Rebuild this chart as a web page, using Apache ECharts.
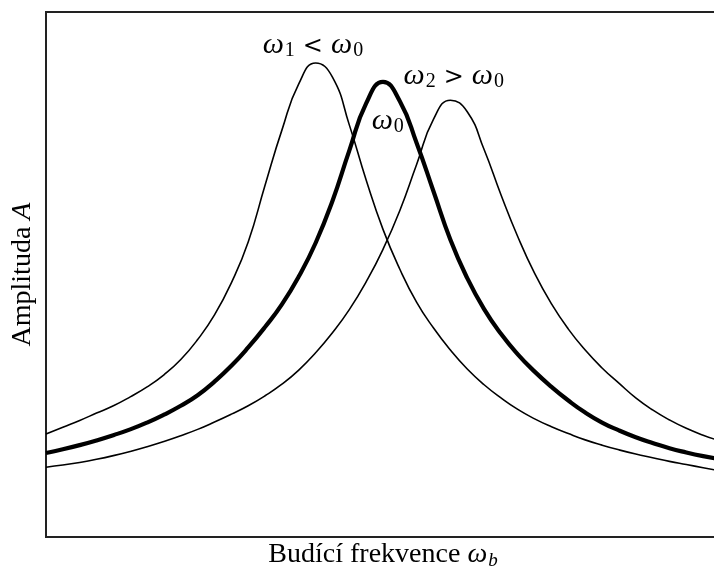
<!DOCTYPE html>
<html>
<head>
<meta charset="utf-8">
<script src="https://cdn.jsdelivr.net/npm/echarts@6/dist/echarts.min.js"></script>
<style>html,body{margin:0;padding:0;background:#fff}#c{width:714px;height:569px}</style>
</head>
<body>
<div id="c"></div>
<script>
// Budící frekvence (arbitrary units 0..100), shared sample positions every 2.5
var freq = [0,2.5,5,7.5,10,12.5,15,17.5,20,22.5,25,27.5,30,32.5,35,37.5,40,42.5,45,47.5,50,52.5,55,57.5,60,62.5,65,67.5,70,72.5,75,77.5,80,82.5,85,87.5,90,92.5,95,97.5,100];
// Amplituda A (arbitrary units 0..100)
var ampW1 = [19.6,20.9,22.2,23.6,25.0,26.7,28.6,30.9,33.8,37.6,42.3,48.4,56.2,67.0,77.5,86.3,90.3,87.6,78.5,68.0,58.6,51.0,44.7,39.8,35.6,32.0,29.0,26.5,24.3,22.5,21.0,19.7,18.5,17.5,16.6,15.8,15.1,14.4,13.8,13.2,12.6];
var ampW0 = [16.0,16.7,17.5,18.4,19.4,20.5,21.8,23.3,25.0,27.0,29.6,32.6,36.1,40.0,44.3,49.6,56.0,64.0,73.6,82.6,86.7,83.0,75.0,65.8,56.6,49.3,43.4,38.7,34.8,31.5,28.6,26.0,23.7,21.8,20.3,19.0,17.9,16.9,16.1,15.4,14.8];
var ampW2 = [13.3,13.7,14.2,14.8,15.5,16.3,17.2,18.2,19.3,20.5,21.9,23.4,25.0,26.9,29.1,31.8,35.1,38.9,43.3,48.6,54.8,62.2,71.0,79.6,83.2,81.0,73.8,65.2,57.2,50.2,44.4,39.6,35.6,32.2,29.3,26.5,24.2,22.3,20.7,19.4,18.3];
var labelW1 = [39.6, 93.7];
var labelW2 = [60.5, 87.8];
var labelW0 = [50.7, 79.2];
var xAxisName = '{t|Budící frekvence }{i|ω}{s|b}';
var yAxisName = '{t|Amplituda }{i|A}';

function pairs(xs, ys) { return xs.map(function (x, k) { return [x, ys[k]]; }); }

var serif = '"Liberation Serif", "DejaVu Serif", serif';
var rich = {
  t: {fontFamily: serif, fontSize: 28, color: '#000'},
  i: {fontFamily: serif, fontSize: 28, fontStyle: 'italic', color: '#000'},
  s: {fontFamily: serif, fontSize: 19, fontStyle: 'italic', color: '#000', padding: [11, 0, 0, 1]}
};
var labRich = {
  i: {fontFamily: serif, fontSize: 30, fontStyle: 'italic', color: '#000'},
  s: {fontFamily: serif, fontSize: 20, color: '#000', padding: [11, 0, 0, 1]},
  o: {fontFamily: '"DejaVu Serif", serif', fontSize: 24, color: '#000', padding: [4, 8, 0, 8]}
};

function mp(coord, text) {
  return {
    symbol: 'circle', symbolSize: 0, silent: true,
    data: [{coord: coord, value: 0}],
    label: {show: true, position: 'inside', formatter: text, rich: labRich}
  };
}

var chart = echarts.init(document.getElementById('c'), null, {renderer: 'canvas'});
chart.setOption({
  animation: false,
  backgroundColor: '#fff',
  grid: {left: 46, top: 12, right: -6, bottom: 32, containLabel: false, outerBoundsMode: 'none',
         show: true, borderColor: '#222', borderWidth: 2, backgroundColor: 'transparent'},
  xAxis: {
    type: 'value', min: 0, max: 100,
    axisLine: {show: false}, axisTick: {show: false}, axisLabel: {show: false}, splitLine: {show: false},
    name: xAxisName, nameLocation: 'middle', nameGap: 3,
    nameTextStyle: {rich: rich}
  },
  yAxis: {
    type: 'value', min: 0, max: 100,
    axisLine: {show: false}, axisTick: {show: false}, axisLabel: {show: false}, splitLine: {show: false},
    name: yAxisName, nameLocation: 'middle', nameGap: 9, nameRotate: 90,
    nameTextStyle: {rich: rich}
  },
  series: [
    {type: 'line', data: pairs(freq, ampW1), smooth: 0.5, symbol: 'none', lineStyle: {color: '#000', width: 1.6},
     markPoint: mp(labelW1, '{i|ω}{s|1}{o|<}{i|ω}{s|0}')},
    {type: 'line', data: pairs(freq, ampW2), smooth: 0.5, symbol: 'none', lineStyle: {color: '#000', width: 1.6},
     markPoint: mp(labelW2, '{i|ω}{s|2}{o|>}{i|ω}{s|0}')},
    {type: 'line', data: pairs(freq, ampW0), smooth: 0.5, symbol: 'none', lineStyle: {color: '#000', width: 4.2},
     markPoint: mp(labelW0, '{i|ω}{s|0}')}
  ]
});
</script>
</body>
</html>
